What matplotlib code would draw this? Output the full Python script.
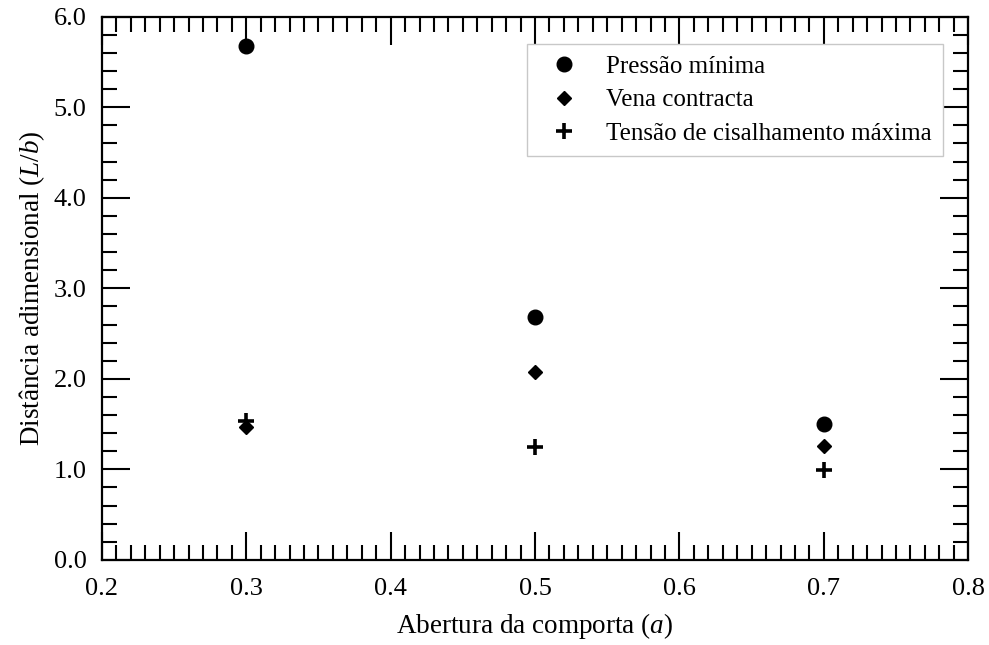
import matplotlib
matplotlib.use("Agg")
import matplotlib.pyplot as plt
from matplotlib.ticker import MultipleLocator, FormatStrFormatter

plt.rcParams['font.family'] = ['Liberation Serif', 'DejaVu Serif']
plt.rcParams['mathtext.fontset'] = 'custom'
plt.rcParams['mathtext.rm'] = 'Liberation Serif'
plt.rcParams['mathtext.it'] = 'Liberation Serif:italic'

# data
abertura = [0.3, 0.5, 0.7]
pressao_minima = [5.68, 2.68, 1.50]
vena_contracta = [1.47, 2.07, 1.26]
tensao_max = [1.53, 1.25, 0.99]

fig = plt.figure(figsize=(9.89, 6.45), dpi=100)
ax = fig.add_axes([0.103, 0.132, 0.876, 0.842])

ax.plot(abertura, pressao_minima, 'o', color='black', ms=10.5, ls='none', label='Pressão mínima')
ax.plot(abertura, vena_contracta, 'D', color='black', ms=7.5, ls='none', label='Vena contracta')
ax.plot(abertura, tensao_max, '+', color='black', ms=11, mew=2.6, ls='none',
        label='Tensão de cisalhamento máxima')

ax.set_xlim(0.2, 0.8)
ax.set_ylim(0.0, 6.0)
ax.xaxis.set_major_locator(MultipleLocator(0.1))
ax.xaxis.set_minor_locator(MultipleLocator(0.01))
ax.yaxis.set_major_locator(MultipleLocator(1.0))
ax.yaxis.set_minor_locator(MultipleLocator(0.2))
ax.xaxis.set_major_formatter(FormatStrFormatter('%.1f'))
ax.yaxis.set_major_formatter(FormatStrFormatter('%.1f'))

ax.tick_params(which='both', direction='in', top=True, right=True, width=1.5,
               labelsize=19, color='black')
ax.tick_params(which='major', length=20)
ax.tick_params(which='minor', length=10.5)
ax.tick_params(axis='y', which='major', pad=11)
ax.tick_params(axis='x', which='major', pad=13)
for s in ax.spines.values():
    s.set_linewidth(1.6)

ax.set_xlabel('Abertura da comporta ($\\mathit{a}$)', fontsize=19.5, labelpad=8)
ax.set_ylabel('Distância adimensional ($\\mathit{L/b}$)', fontsize=19.5, labelpad=5)

leg = ax.legend(loc='upper right', bbox_to_anchor=(0.971, 0.950), borderaxespad=0,
                fontsize=18, fancybox=False, framealpha=1, edgecolor='#c8c8c8',
                handletextpad=0.7, borderpad=0.45, labelspacing=0.45, handlelength=2.0)
leg.get_frame().set_linewidth(1.0)

fig.savefig('out.png', dpi=100)
